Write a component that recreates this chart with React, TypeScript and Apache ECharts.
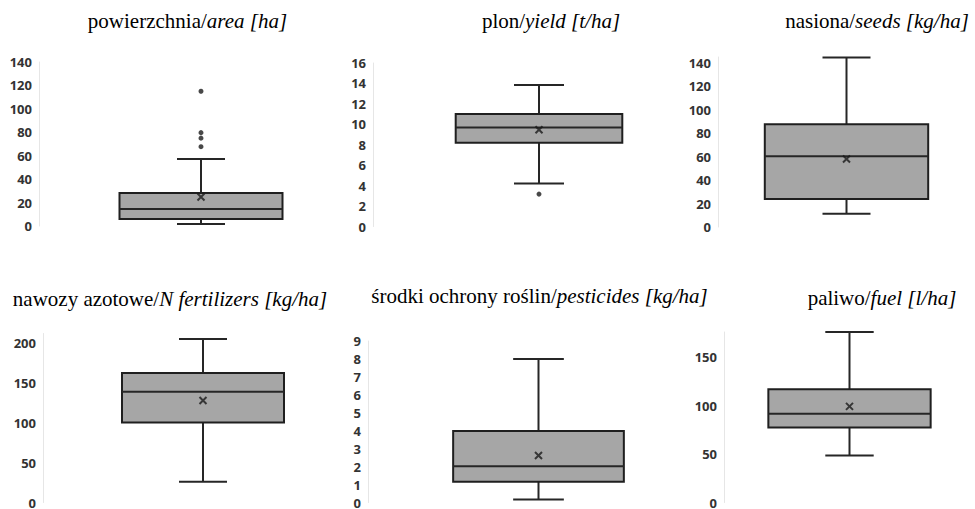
import React, { useEffect, useRef } from "react";
import * as echarts from "echarts";

// Titles (plain part / italic part)
const titlePlain = ["powierzchnia/", "plon/", "nasiona/", "nawozy azotowe/", "środki ochrony roślin/", "paliwo/"];
const titleItalic = ["area [ha]", "yield [t/ha]", "seeds [kg/ha]", "N fertilizers [kg/ha]", "pesticides [kg/ha]", "fuel [l/ha]"];

// Five-number summaries [min, Q1, median, Q3, max]
const areaStats = [1.7, 6, 14.5, 28.2, 57.2];
const yieldStats = [4.2, 8.2, 9.7, 11.0, 13.85];
const seedsStats = [11.4, 23.9, 60.4, 87.7, 144.6];
const fertStats = [26, 100.4, 139, 162.5, 205];
const pestStats = [0.17, 1.16, 2.02, 3.98, 7.99];
const fuelStats = [48.6, 77.3, 91.7, 117, 176];

// Means
const means = [24.8, 9.47, 58, 128, 2.62, 99.2];

// Outliers
const areaOutliers = [115, 79.7, 75, 67.7];
const yieldOutliers = [3.17];
const seedsOutliers: number[] = [];
const fertOutliers: number[] = [];
const pestOutliers: number[] = [];
const fuelOutliers: number[] = [];

// Axis ranges
const axisMax = [140, 16, 145, 212, 9, 176];
const axisInterval = [20, 2, 20, 50, 1, 50];

const stats = [areaStats, yieldStats, seedsStats, fertStats, pestStats, fuelStats];
const outliers = [areaOutliers, yieldOutliers, seedsOutliers, fertOutliers, pestOutliers, fuelOutliers];

// Layout (pixels)
const grids = [
  { left: 39, top: 62, width: 324, height: 164, box: 163, cap: 48 },
  { left: 373, top: 63, width: 332, height: 163.5, box: 166.6, cap: 50 },
  { left: 718, top: 57, width: 324, height: 170, box: 163.4, cap: 48 },
  { left: 43, top: 333.5, width: 320, height: 172, box: 162, cap: 48 },
  { left: 368, top: 341, width: 341, height: 163.3, box: 170.7, cap: 50.7 },
  { left: 724, top: 332, width: 324, height: 171.3, box: 162.3, cap: 48.4 },
];
const titlePos = [
  [187.5, 22],
  [551, 22],
  [877, 22],
  [170, 300],
  [539.5, 297],
  [882, 299],
];

const FONT_SIZE = 21;
const SERIF = "serif";

function measure(text: string, italic: boolean): number {
  const c = document.createElement("canvas");
  const ctx = c.getContext("2d");
  if (!ctx) return text.length * FONT_SIZE * 0.45;
  ctx.font = `${italic ? "italic " : ""}${FONT_SIZE}px serif`;
  return ctx.measureText(text).width;
}

export default function App() {
  const ref = useRef<HTMLDivElement>(null);
  useEffect(() => {
    if (!ref.current) return;
    const chart = echarts.init(ref.current, undefined, { renderer: "svg" });

    const series: any[] = [];
    stats.forEach((s, i) => {
      const g = grids[i];
      series.push({
        type: "custom",
        xAxisIndex: i,
        yAxisIndex: i,
        encode: { x: 0, y: [1, 2, 3, 4, 5] },
        data: [[0, ...s]],
        renderItem: (params: any, api: any) => {
          const x = api.value(0);
          const pMin = api.coord([x, api.value(1)]);
          const pQ1 = api.coord([x, api.value(2)]);
          const pMed = api.coord([x, api.value(3)]);
          const pQ3 = api.coord([x, api.value(4)]);
          const pMax = api.coord([x, api.value(5)]);
          const cx = pMin[0];
          const hb = g.box / 2;
          const hc = g.cap / 2;
          const ls = { stroke: "#262626", lineWidth: 2 };
          return {
            type: "group",
            children: [
              { type: "line", shape: { x1: cx, y1: pQ1[1], x2: cx, y2: pMin[1] }, style: ls },
              { type: "line", shape: { x1: cx, y1: pQ3[1], x2: cx, y2: pMax[1] }, style: ls },
              { type: "line", shape: { x1: cx - hc, y1: pMin[1], x2: cx + hc, y2: pMin[1] }, style: ls },
              { type: "line", shape: { x1: cx - hc, y1: pMax[1], x2: cx + hc, y2: pMax[1] }, style: ls },
              {
                type: "rect",
                shape: { x: cx - hb, y: pQ3[1], width: g.box, height: pQ1[1] - pQ3[1] },
                style: { fill: "#a6a6a6", stroke: "#1f1f1f", lineWidth: 2 },
              },
              { type: "line", shape: { x1: cx - hb, y1: pMed[1], x2: cx + hb, y2: pMed[1] }, style: ls },
            ],
          };
        },
        z: 2,
      });
      series.push({
        type: "scatter",
        xAxisIndex: i,
        yAxisIndex: i,
        data: [[0, means[i]]],
        symbol: "path://M0,0L10,10M10,0L0,10",
        symbolSize: 7,
        itemStyle: { color: "transparent", borderColor: "#1a1a1a", borderWidth: 2 },
        z: 5,
      });
      if (outliers[i].length) {
        series.push({
          type: "scatter",
          xAxisIndex: i,
          yAxisIndex: i,
          data: outliers[i].map((v) => [0, v]),
          symbol: "circle",
          symbolSize: 5,
          itemStyle: { color: "#1a1a1a" },
          z: 5,
        });
      }
    });

    const graphics: any[] = [];
    titlePlain.forEach((t, i) => {
      const wPlain = measure(t, false);
      const wIt = measure(titleItalic[i], true);
      const left = titlePos[i][0] - (wPlain + wIt) / 2;
      const top = titlePos[i][1] - 12;
      graphics.push({
        type: "text",
        x: left,
        y: top,
        style: { text: t, fontFamily: SERIF, fontSize: FONT_SIZE },
      });
      graphics.push({
        type: "text",
        x: left + wPlain,
        y: top,
        style: { text: titleItalic[i], fontFamily: SERIF, fontSize: FONT_SIZE, fontStyle: "italic" },
      });
    });

    const option: any = {
      animation: false,
      backgroundColor: "#ffffff",
      grid: grids.map((g) => ({ left: g.left, top: g.top, width: g.width, height: g.height })),
      xAxis: grids.map((_, i) => ({
        type: "category",
        gridIndex: i,
        data: [""],
        show: false,
      })),
      yAxis: grids.map((_, i) => ({
        type: "value",
        gridIndex: i,
        min: 0,
        max: axisMax[i],
        interval: axisInterval[i],
        axisLine: { show: true, lineStyle: { color: "#e6e6e6", width: 1 } },
        axisTick: { show: false },
        splitLine: { show: false },
        axisLabel: {
          margin: 7,
          fontFamily: "Open Sans",
          fontWeight: "bold",
          fontSize: 13,
          color: "#333333",
          formatter: (v: number) => (Math.abs(v / axisInterval[i] - Math.round(v / axisInterval[i])) < 1e-6 ? String(v) : ""),
        },
      })),
      graphic: graphics,
      series,
    };
    chart.setOption(option);
    return () => chart.dispose();
  }, []);
  return <div ref={ref} style={{ position: "absolute", left: 0, top: 0, width: 975, height: 509 }} />;
}
